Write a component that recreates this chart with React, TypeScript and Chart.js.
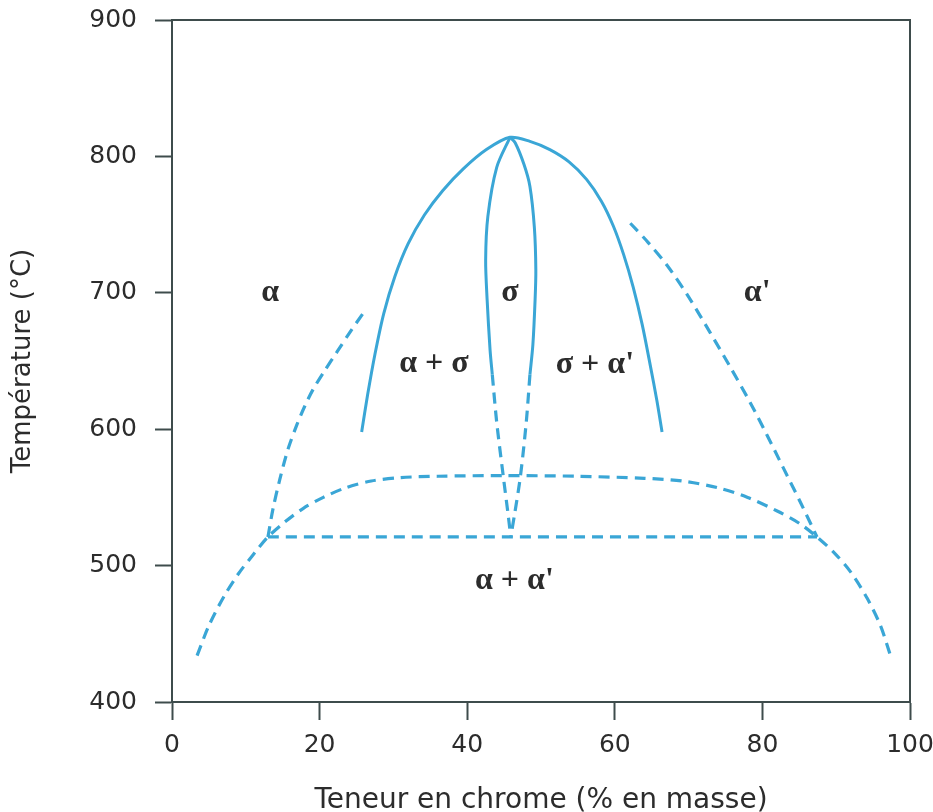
import React, { useEffect, useRef } from "react";
import { Chart, registerables } from "chart.js";

Chart.register(...registerables);

// ---- Data (x = % Cr en masse, y = °C) ----
const xTickValues = [0, 20, 40, 60, 80, 100];
const yTickValues = [400, 500, 600, 700, 800, 900];

const sigmaSolvus: [number, number][] = [
  [25.7, 598], [26.5, 625], [27.5, 655], [28.7, 685], [30.2, 712], [32.0, 736],
  [34.2, 757], [36.7, 775], [39.5, 791], [42.6, 805], [45.8, 814],
  [48.5, 811], [51.2, 805], [53.8, 796], [56.2, 783], [58.2, 767], [59.8, 749],
  [61.2, 728], [62.5, 704], [63.7, 677], [64.8, 647], [65.7, 621], [66.4, 598],
];

const sigmaInnerLeftSolid: [number, number][] = [
  [45.8, 814], [44.0, 792], [42.8, 756], [42.5, 724], [42.7, 695], [43.1, 658], [43.4, 640],
];
const sigmaInnerLeftDashed: [number, number][] = [
  [43.4, 640], [44.0, 605], [44.9, 565], [45.6, 535], [45.9, 521],
];
const sigmaInnerRightSolid: [number, number][] = [
  [45.8, 814], [46.5, 810], [47.7, 794], [48.5, 778], [49.1, 748], [49.3, 717], [49.2, 695], [48.9, 662], [48.5, 640],
];
const sigmaInnerRightDashed: [number, number][] = [
  [48.5, 640], [48.0, 605], [47.2, 565], [46.4, 537], [45.9, 521],
];

const alphaSigmaBoundary: [number, number][] = [
  [13.0, 521], [13.7, 542], [14.6, 563], [15.7, 585], [16.9, 603], [18.0, 617],
  [19.1, 629], [20.7, 643], [22.4, 657], [24.1, 671], [25.9, 685],
];
const sigmaAlphaPrimeBoundary: [number, number][] = [
  [62.1, 751], [64.5, 737], [67.1, 720], [70.0, 697], [72.9, 671], [75.6, 646],
  [78.3, 620], [80.6, 596], [82.8, 572], [85.1, 547], [87.4, 521],
];

const miscibilityGap: [number, number][] = [
  [3.4, 434], [5.0, 456], [7.0, 477], [9.0, 494], [11.0, 508], [13.0, 521], [15.3, 532],
  [17.8, 542], [20.5, 550], [23.5, 557], [27.0, 562], [31.0, 564.5], [36.0, 565.5], [45.0, 566],
  [55.0, 565.5], [64.0, 564], [69.2, 562], [74.0, 557], [78.0, 550], [82.0, 540], [85.0, 531],
  [87.4, 521], [89.8, 509], [92.0, 495], [94.2, 476], [96.0, 456], [97.3, 435],
];

const eutectoidLine: [number, number][] = [[13.0, 521], [87.4, 521]];

const phaseLabels = ["α", "σ", "α'", "α + σ", "σ + α'", "α + α'"];
const phaseLabelX = [13.3, 45.8, 79.3, 35.5, 57.3, 46.4];
const phaseLabelY = [700, 700, 700, 648, 647, 489];

const xTitle = "Teneur en chrome (% en masse)";
const yTitle = "Température (°C)";

// ---- Styles ----
const CURVE = "#3aa6d6";
const AXIS = "#3e4c4c";
const TEXT = "#2c2c2c";

const toPts = (arr: [number, number][]) => arr.map(([x, y]) => ({ x, y }));

const solid = (data: [number, number][]) => ({
  data: toPts(data),
  borderColor: CURVE,
  borderWidth: 3,
  showLine: true,
  pointRadius: 0,
  tension: 0.3,
  fill: false,
});
const dashed = (data: [number, number][]) => ({
  ...solid(data),
  borderWidth: 3.2,
  borderDash: [11, 7],
});

const framePlugin = {
  id: "frame",
  afterDatasetsDraw(chart: any) {
    const { ctx, chartArea } = chart;
    ctx.save();
    ctx.strokeStyle = AXIS;
    ctx.lineWidth = 2;
    ctx.beginPath();
    ctx.moveTo(chartArea.left, chartArea.top);
    ctx.lineTo(chartArea.right, chartArea.top);
    ctx.lineTo(chartArea.right, chartArea.bottom);
    ctx.stroke();
    ctx.restore();
  },
};

const labelPlugin = {
  id: "phaseLabels",
  afterDatasetsDraw(chart: any) {
    const { ctx, scales } = chart;
    ctx.save();
    ctx.fillStyle = TEXT;
    ctx.font = "bold 32px 'Liberation Serif', 'DejaVu Serif', serif";
    ctx.textAlign = "center";
    ctx.textBaseline = "middle";
    phaseLabels.forEach((t, i) => {
      ctx.fillText(t, scales.x.getPixelForValue(phaseLabelX[i]), scales.y.getPixelForValue(phaseLabelY[i]));
    });
    ctx.restore();
  },
};

const zeroPad = (s: any) => {
  s.paddingTop = 0;
  s.paddingBottom = 0;
  s.paddingLeft = 0;
  s.paddingRight = 0;
};

export default function App() {
  const ref = useRef<HTMLCanvasElement | null>(null);

  useEffect(() => {
    if (!ref.current) return;
    const tickFont = { family: "'DejaVu Sans', sans-serif", size: 25 };
    const chart = new Chart(ref.current, {
      type: "scatter",
      data: {
        datasets: [
          solid(sigmaSolvus),
          solid(sigmaInnerLeftSolid),
          dashed(sigmaInnerLeftDashed),
          solid(sigmaInnerRightSolid),
          dashed(sigmaInnerRightDashed),
          dashed(alphaSigmaBoundary),
          dashed(sigmaAlphaPrimeBoundary),
          dashed(miscibilityGap),
          dashed(eutectoidLine),
        ] as any,
      },
      options: {
        animation: false,
        responsive: true,
        maintainAspectRatio: false,
        layout: { padding: { left: 0, right: 23, top: 20, bottom: 0 } },
        plugins: { legend: { display: false }, tooltip: { enabled: false } },
        scales: {
          x: {
            type: "linear",
            position: "bottom",
            min: 0,
            max: 100,
            afterBuildTicks: (s: any) => { s.ticks = xTickValues.map((v) => ({ value: v })); },
            afterFit: (s: any) => { s.height = 110; zeroPad(s); },
            ticks: { font: tickFont, color: TEXT, padding: 10, maxRotation: 0 },
            grid: { drawOnChartArea: false, drawTicks: true, tickLength: 18, tickWidth: 2, tickColor: AXIS },
            border: { display: true, color: AXIS, width: 2 },
            title: {
              display: true,
              text: xTitle,
              color: TEXT,
              font: { family: "'DejaVu Sans', sans-serif", size: 28, lineHeight: 0.8 },
              padding: { top: 0, bottom: 0 },
            },
          },
          y: {
            type: "linear",
            position: "left",
            min: 400,
            max: 900,
            afterBuildTicks: (s: any) => { s.ticks = yTickValues.map((v) => ({ value: v })); },
            afterFit: (s: any) => { s.width = 172; zeroPad(s); },
            ticks: { font: tickFont, color: TEXT, padding: 18 },
            grid: { drawOnChartArea: false, drawTicks: true, tickLength: 17, tickWidth: 2, tickColor: AXIS },
            border: { display: true, color: AXIS, width: 2 },
            title: {
              display: true,
              text: yTitle,
              color: TEXT,
              font: { family: "'DejaVu Sans', sans-serif", size: 26, lineHeight: 1.0 },
              padding: { top: 10, bottom: 0 },
            },
          },
        },
      } as any,
      plugins: [framePlugin, labelPlugin],
    });
    return () => chart.destroy();
  }, []);

  return (
    <div style={{ position: "absolute", left: 0, top: 0, width: 933, height: 812, background: "#fff" }}>
      <canvas ref={ref} />
    </div>
  );
}
